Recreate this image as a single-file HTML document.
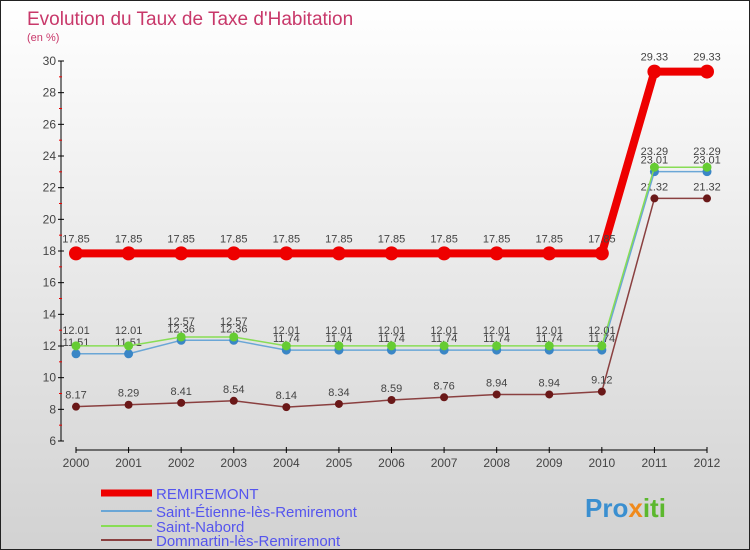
<!DOCTYPE html>
<html><head><meta charset="utf-8"><style>
body{margin:0}
#c{width:750px;height:550px;position:relative;box-sizing:border-box;border:1px solid #222;background:linear-gradient(#fff,#d2d2d2);overflow:hidden;font-family:"Liberation Sans",sans-serif}
svg text{font-family:"Liberation Sans",sans-serif}
</style></head><body>
<div id="c">
<svg id="s" width="750" height="550">
<text x="26" y="24" font-size="19" fill="#c8386a">Evolution du Taux de Taxe d'Habitation</text>
<text x="26" y="40" font-size="11" fill="#c8386a">(en %)</text>
<g id="axes"></g><g id="series"></g><g id="legend"></g>
<text x="584" y="516" font-size="26" font-weight="bold" fill="#3a8fd0">Pro<tspan fill="#f08a1c">x</tspan><tspan fill="#5cb82e">iti</tspan></text>
</svg></div>
<script>
const years=[2000,2001,2002,2003,2004,2005,2006,2007,2008,2009,2010,2011,2012];
const remiremont=[17.85,17.85,17.85,17.85,17.85,17.85,17.85,17.85,17.85,17.85,17.85,29.33,29.33];
const stEtienne=[11.51,11.51,12.36,12.36,11.74,11.74,11.74,11.74,11.74,11.74,11.74,23.01,23.01];
const stNabord=[12.01,12.01,12.57,12.57,12.01,12.01,12.01,12.01,12.01,12.01,12.01,23.29,23.29];
const dommartin=[8.17,8.29,8.41,8.54,8.14,8.34,8.59,8.76,8.94,8.94,9.12,21.32,21.32];
const yTicks=[6,8,10,12,14,16,18,20,22,24,26,28,30];
const seriesNames=["REMIREMONT","Saint-Étienne-lès-Remiremont","Saint-Nabord","Dommartin-lès-Remiremont"];
const NS="http://www.w3.org/2000/svg";
const x=i=>75+i*(631/12);
const y=v=>440-(v-6)*(380/24);
function mk(t,a,p){const e=document.createElementNS(NS,t);for(const k in a)e.setAttribute(k,a[k]);p.appendChild(e);return e;}
const ax=document.getElementById('axes');
let l=mk('line',{x1:60,y1:y(30),x2:60,y2:y(6),stroke:'#000'},ax);


l=mk('line',{x1:x(0),y1:449,x2:x(12),y2:449,stroke:'#000'},ax);


yTicks.forEach(v=>{
 mk('line',{x1:57,x2:63,y1:y(v),y2:y(v),stroke:'#000'},ax);
 if(v<30) mk('line',{x1:58,x2:61,y1:y(v+1),y2:y(v+1),stroke:'#e00'},ax);
 const t=mk('text',{x:55,y:y(v)+4,'font-size':12,'text-anchor':'end',fill:'#444'},ax);t.textContent=v;
 
 
});
years.forEach((yr,i)=>{
 mk('line',{x1:x(i),x2:x(i),y1:446,y2:452,stroke:'#000'},ax);
 const t=mk('text',{x:x(i),y:466,'font-size':12,'text-anchor':'middle',fill:'#444'},ax);t.textContent=yr;
 
 
});
const sg=document.getElementById('series');
const defs=[
 {d:dommartin,c:'#8a4040',m:'#6a1818',w:1.5,r:4,name:'dommartin',dy:-8},
 {d:stEtienne,c:'#6aa6d6',m:'#3a86c6',w:1.5,r:4.5,name:'saint-etienne',dy:-8},
 {d:stNabord,c:'#88dd55',m:'#66cc33',w:1.5,r:4.5,name:'saint-nabord',dy:-12},
 {d:remiremont,c:'#ee0000',m:'#ee0000',w:8,r:7,name:'remiremont',dy:-11}
];
defs.forEach(s=>{
 const g=mk('g',{},sg);
 
 
 const p=mk('polyline',{points:s.d.map((v,i)=>x(i)+','+y(v)).join(' '),fill:'none',stroke:s.c,'stroke-width':s.w,'stroke-linejoin':'round'},g);
 
 
 s.d.forEach((v,i)=>{
  const c=mk('circle',{cx:x(i),cy:y(v),r:s.r,fill:s.m},g);
  
  
  const t=mk('text',{x:x(i),y:y(v)+s.dy,'font-size':11,'text-anchor':'middle',fill:'#444'},g);t.textContent=v.toFixed(2);
  
  
 });
});
const lg=document.getElementById('legend');
const lc=['#ee0000','#6aa6d6','#88dd55','#8a4040'],lw=[7,2,2,2],ly=[492,510,525,539];
seriesNames.forEach((n,i)=>{
 const g=mk('g',{},lg);
 
 
 mk('line',{x1:100,x2:151,y1:ly[i],y2:ly[i],stroke:lc[i],'stroke-width':lw[i]},g);
 const t=mk('text',{x:155,y:ly[i]+6,'font-size':15,fill:'#5555ee'},g);t.textContent=n;
});
</script>
</body></html>
